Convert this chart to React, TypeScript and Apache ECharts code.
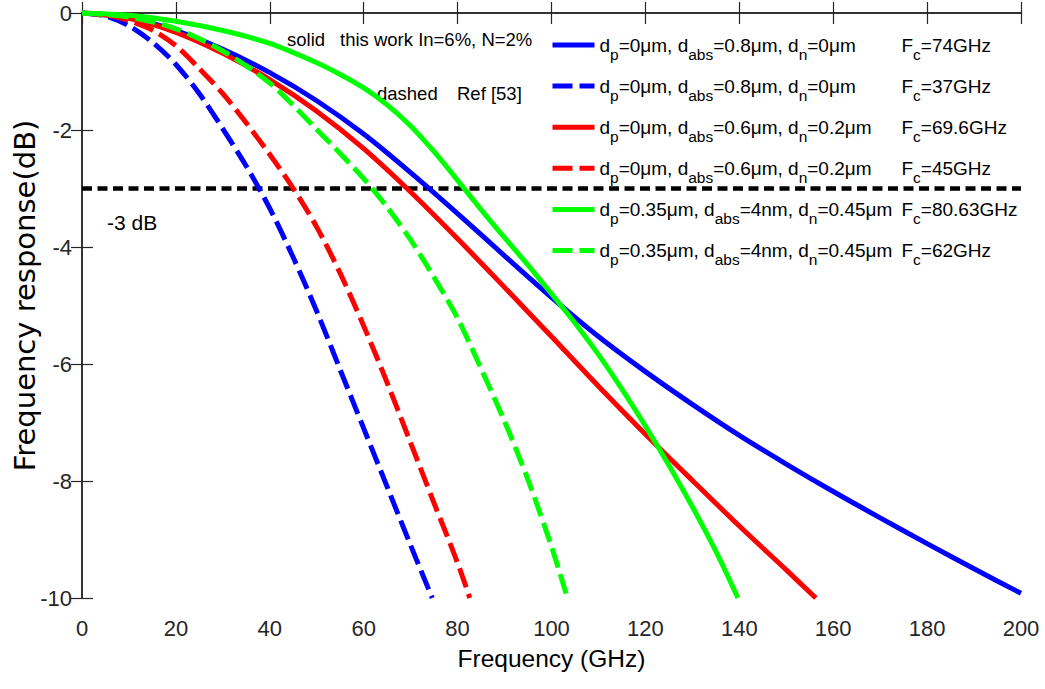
import React, { useEffect, useRef } from 'react';
import * as echarts from 'echarts';

// ---- data (frequency in GHz, response in dB) ----
const blueSolidF = [0, 10, 20, 30, 40, 50, 60, 70, 80, 90, 100, 110, 120, 130, 140, 150, 160, 170, 180, 190, 200];
const blueSolidDb = [0, -0.08, -0.3, -0.62, -1.02, -1.5, -2.07, -2.73, -3.43, -4.15, -4.86, -5.53, -6.13, -6.69, -7.22, -7.71, -8.18, -8.63, -9.07, -9.5, -9.92];

const blueDashF = [0, 5, 10, 15, 20, 25, 30, 35, 40, 45, 50, 55, 60, 65, 70, 74.6];
const blueDashDb = [0, -0.05, -0.22, -0.5, -0.88, -1.38, -1.98, -2.62, -3.34, -4.18, -5.1, -6.1, -7.1, -8.1, -9.1, -10];

const redSolidF = [0, 10, 20, 30, 40, 50, 60, 70, 80, 90, 100, 110, 120, 130, 140, 150, 156.3];
const redSolidDb = [0, -0.09, -0.33, -0.69, -1.14, -1.68, -2.32, -3.06, -3.86, -4.69, -5.53, -6.38, -7.2, -7.99, -8.77, -9.52, -10];

const redDashF = [0, 5, 10, 15, 20, 25, 30, 35, 40, 45, 50, 55, 60, 65, 70, 75, 80, 82.6];
const redDashDb = [0, -0.03, -0.13, -0.29, -0.56, -0.95, -1.38, -1.88, -2.42, -3.0, -3.66, -4.45, -5.35, -6.32, -7.35, -8.38, -9.4, -10];

const greenSolidF = [0, 10, 20, 30, 40, 50, 55, 60, 65, 70, 75, 80, 85, 90, 95, 100, 105, 110, 115, 120, 125, 130, 135, 139.7];
const greenSolidDb = [0, -0.04, -0.14, -0.3, -0.52, -0.85, -1.05, -1.28, -1.57, -1.93, -2.37, -2.86, -3.36, -3.84, -4.31, -4.8, -5.3, -5.84, -6.43, -7.06, -7.73, -8.44, -9.2, -10];

const greenDashF = [0, 10, 20, 30, 40, 50, 60, 65, 70, 75, 80, 85, 90, 95, 100, 103.4];
const greenDashDb = [0, -0.07, -0.27, -0.65, -1.2, -1.99, -2.83, -3.32, -3.88, -4.52, -5.22, -6.08, -6.98, -7.98, -9.12, -10];

const thresholdF = [0, 200];
const thresholdDb = [-3, -3];

const dpValues = ['0μm', '0μm', '0μm', '0μm', '0.35μm', '0.35μm'];
const dabsValues = ['0.8μm', '0.8μm', '0.6μm', '0.6μm', '4nm', '4nm'];
const dnValues = ['0μm', '0μm', '0.2μm', '0.2μm', '0.45μm', '0.45μm'];
const fcValues = ['74GHz', '37GHz', '69.6GHz', '45GHz', '80.63GHz', '62GHz'];
const seriesColors = ['#0000ff', '#0000ff', '#ff0000', '#ff0000', '#00ff00', '#00ff00'];
const seriesDashed = [false, true, false, true, false, true];

const seriesF = [blueSolidF, blueDashF, redSolidF, redDashF, greenSolidF, greenDashF];
const seriesDb = [blueSolidDb, blueDashDb, redSolidDb, redDashDb, greenSolidDb, greenDashDb];

const FONT = '"Liberation Sans", Arial, sans-serif';
const MAIN = 19;
const SUB = 15.5;
const DASH = [20, 7];

const names = dpValues.map(
  (dp, i) => `d_p=${dp}, d_abs=${dabsValues[i]}, d_n=${dnValues[i]}  F_c=${fcValues[i]}`
);

function measure(text: string, size: number): number {
  const c = document.createElement('canvas');
  const ctx = c.getContext('2d');
  if (!ctx) return text.length * size * 0.55;
  ctx.font = `${size}px ${FONT}`;
  return ctx.measureText(text).width;
}

export default function App() {
  const ref = useRef<HTMLDivElement>(null);

  useEffect(() => {
    if (!ref.current) return;
    const chart = echarts.init(ref.current, undefined, { renderer: 'svg' });

    const rich: Record<string, any> = {
      m: { fontSize: MAIN, fontFamily: FONT, color: '#000', lineHeight: 34 },
      s: { fontSize: SUB, fontFamily: FONT, color: '#000', lineHeight: 15, verticalAlign: 'bottom' },
    };
    const legendTexts: string[] = [];
    names.forEach((_, i) => {
      const parts = ['d', `=${dpValues[i]}, d`, `=${dabsValues[i]}, d`, `=${dnValues[i]}`];
      const subs = ['p', 'abs', 'n'];
      const w =
        parts.reduce((a, t) => a + measure(t, MAIN), 0) + subs.reduce((a, t) => a + measure(t, SUB), 0);
      rich['g' + i] = { width: Math.max(4, 302 - w), lineHeight: 34, fontSize: MAIN };
      legendTexts.push(
        `{m|d}{s|p}{m|=${dpValues[i]}, d}{s|abs}{m|=${dabsValues[i]}, d}{s|n}{m|=${dnValues[i]}}{g${i}| }{m|F}{s|c}{m|=${fcValues[i]}}`
      );
    });

    const lineSeries = names.map((name, i) => ({
      name,
      type: 'line',
      data: seriesF[i].map((f, j) => [f, seriesDb[i][j]]),
      symbol: 'none',
      showSymbol: false,
      smooth: 0.3,
      z: 3,
      lineStyle: {
        color: seriesColors[i],
        width: 5,
        type: seriesDashed[i] ? DASH : 'solid',
      },
      itemStyle: { color: seriesColors[i] },
    }));

    const axisLine = { show: true, lineStyle: { color: '#262626', width: 1.5 } };
    const tick = { show: true, inside: true, length: 11, lineStyle: { color: '#262626', width: 1.2 } };

    chart.setOption({
      animation: false,
      backgroundColor: '#ffffff',
      grid: { left: 82, right: 24, top: 13, bottom: 91, containLabel: false, outerBoundsMode: 'none' },
      legend: {
        orient: 'vertical',
        left: 550,
        top: 35.5,
        padding: 0,
        itemWidth: 42,
        itemHeight: 12,
        itemGap: 14.6,
        selectedMode: false,
        itemStyle: { opacity: 0 },
        data: names.map((n, i) => ({
          name: n,
          itemStyle: { opacity: 0 },
          lineStyle: { color: seriesColors[i], width: 5, type: seriesDashed[i] ? DASH : 'solid' },
        })),
        formatter: (name: string) => legendTexts[names.indexOf(name)],
        textStyle: { rich },
      },
      xAxis: [
        {
          type: 'value',
          min: 0,
          max: 200,
          interval: 20,
          name: 'Frequency (GHz)',
          nameLocation: 'middle',
          nameGap: 48,
          nameMoveOverlap: false,
          nameTextStyle: { fontSize: 24.5, fontFamily: FONT, color: '#000' },
          axisLine,
          axisTick: tick,
          axisLabel: { fontSize: 22, fontFamily: FONT, color: '#262626', margin: 19 },
          splitLine: { show: false },
        },
        {
          type: 'value',
          position: 'top',
          min: 0,
          max: 200,
          interval: 20,
          axisLine,
          axisTick: tick,
          axisLabel: { show: false },
          splitLine: { show: false },
        },
      ],
      yAxis: [
        {
          type: 'value',
          min: -10,
          max: 0,
          interval: 2,
          name: 'Frequency response(dB)',
          nameLocation: 'middle',
          nameGap: 43,
          nameMoveOverlap: false,
          nameTextStyle: {
            fontSize: 29,
            fontFamily: '"DejaVu Sans", sans-serif',
            color: '#000',
            padding: [0, 0, 0, 20],
          },
          axisLine,
          axisTick: tick,
          axisLabel: { fontSize: 22, fontFamily: FONT, color: '#262626', margin: 10 },
          splitLine: { show: false },
        },
        {
          type: 'value',
          position: 'right',
          min: -10,
          max: 0,
          interval: 2,
          axisLine,
          axisTick: tick,
          axisLabel: { show: false },
          splitLine: { show: false },
        },
      ],
      graphic: [
        { type: 'text', x: 287, y: 39, style: { text: 'solid', fontSize: 18.5, fontFamily: FONT, fill: '#000', verticalAlign: 'middle' } },
        { type: 'text', x: 340, y: 39, style: { text: 'this work In=6%, N=2%', fontSize: 18.5, fontFamily: FONT, fill: '#000', verticalAlign: 'middle' } },
        { type: 'text', x: 377, y: 93, style: { text: 'dashed', fontSize: 18.5, fontFamily: FONT, fill: '#000', verticalAlign: 'middle' } },
        { type: 'text', x: 457, y: 93, style: { text: 'Ref [53]', fontSize: 18.5, fontFamily: FONT, fill: '#000', verticalAlign: 'middle' } },
        { type: 'text', x: 107, y: 222, style: { text: '-3 dB', fontSize: 21, fontFamily: FONT, fill: '#000', verticalAlign: 'middle' } },
      ],
      series: [
        {
          name: '-3 dB',
          type: 'line',
          data: thresholdF.map((f, j) => [f, thresholdDb[j]]),
          symbol: 'none',
          showSymbol: false,
          z: 2,
          lineStyle: { color: '#000', width: 4.5, type: [10, 5.5] },
        },
        ...lineSeries,
      ],
    });

    return () => chart.dispose();
  }, []);

  return (
    <div
      ref={ref}
      style={{ position: 'fixed', left: 0, top: 0, width: 1045, height: 689, background: '#fff' }}
    />
  );
}
